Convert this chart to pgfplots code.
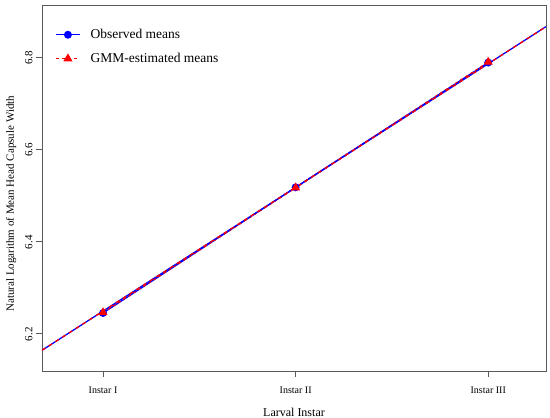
\documentclass[border=0pt]{standalone}
\usepackage{pgfplots}
\pgfplotsset{compat=1.18}
\usepackage{fontspec}
\setmainfont{Liberation Serif}

\pgfplotstableread{
x y
1 6.244
2 6.517
3 6.788
}\observed

\pgfplotstableread{
x y
1 6.245
2 6.516
3 6.789
}\gmm

\begin{document}
\begin{tikzpicture}
  \useasboundingbox (0,0) rectangle (550pt,418pt);
  \begin{axis}[
      at={(42pt,47pt)}, anchor=south west,
      scale only axis,
      width=504pt, height=366pt,
      xmin=0.683, xmax=3.30,
      ymin=6.118, ymax=6.913,
      axis line style={draw=black!65, line width=0.8pt},
      tick style={draw=black!65, line width=0.8pt},
      tick align=outside,
      major tick length=6pt,
      xtick={1,2,3},
      xticklabels={Instar I, Instar II, Instar III},
      ytick={6.2,6.4,6.6,6.8},
      xtick pos=bottom, ytick pos=left,
      /pgf/number format/assume math mode=true,
      /pgf/number format/fixed,
      /pgf/number format/precision=1,
      xticklabel style={font=\fontsize{10}{12}\selectfont, yshift=-6pt},
      yticklabel style={font=\fontsize{11}{13}\selectfont, rotate=90, anchor=south, xshift=-1pt},
      xlabel={Larval Instar},
      ylabel={Natural Logarithm of Mean Head Capsule Width},
      xlabel style={font=\fontsize{12}{14}\selectfont, yshift=-8pt},
      ylabel style={font=\fontsize{11}{13}\selectfont, at={(ticklabel cs:0.457)}, yshift=2pt},
      legend style={at={(0.02,0.945)}, anchor=north west, draw=none, fill=none,
        font=\fontsize{13.5}{15}\selectfont, row sep=9pt, nodes={inner xsep=10pt}},
      legend cell align=left,
      legend image code/.code={
        \draw[#1] (0pt,0pt) -- (24pt,0pt);
        \draw[#1, solid] plot coordinates {(12pt,0pt)};
      },
    ]
    \addplot[blue, line width=1.3pt, mark=*, mark size=3.3pt] table {\observed};
    \addlegendentry{Observed means}
    \addplot[red, line width=1.3pt, dashed, mark=triangle*, mark size=4pt, mark options={solid}] table {\gmm};
    \addlegendentry{GMM-estimated means}
    \addplot[blue, line width=1.3pt, forget plot] coordinates {(0.683,6.163) (3.30,6.866)};
    \addplot[red, line width=1.3pt, dash pattern=on 4pt off 4pt, forget plot] coordinates {(0.683,6.163) (3.30,6.866)};
  \end{axis}
\end{tikzpicture}
\end{document}
